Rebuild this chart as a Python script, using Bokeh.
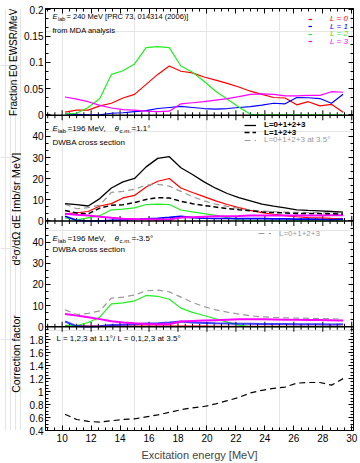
import math
from bokeh.plotting import figure
from bokeh.layouts import row
from bokeh.models import (Range1d, LinearAxis, FixedTicker, Label, Span, Legend, LegendItem)
from bokeh.embed import file_html
from bokeh.resources import INLINE

FONT = "Liberation Sans"

# ---------------- data ----------------
energy = [10.2, 11.0, 11.8, 12.6, 13.4, 14.2, 15.0, 15.8, 16.6, 17.4, 18.2, 19.0, 19.8,
          20.6, 21.4, 22.2, 23.0, 23.8, 24.6, 25.4, 26.2, 27.0, 27.8, 28.6, 29.4]

# Panel 1: fraction E0 EWSR/MeV from MDA analysis
mda_L0 = [0.005, 0.009, 0.009, 0.017, 0.022, 0.032, 0.039, 0.058, 0.077, 0.093, 0.083, 0.080, 0.072,
          0.066, 0.060, 0.053, 0.045, 0.039, 0.033, 0.032, 0.019, 0.025, 0.017, 0.020, 0.005]
mda_L1 = [0.002, 0.001, 0.000, 0.000, 0.003, 0.004, 0.006, 0.008, 0.012, 0.014, 0.016, 0.014, 0.012,
          0.011, 0.012, 0.014, 0.0155, 0.0186, 0.022, 0.021, 0.033, 0.0325, 0.031, 0.022, 0.039]
mda_L2 = [0.002, 0.003, 0.014, 0.031, 0.077, 0.084, 0.097, 0.128, 0.130, 0.128, 0.093, 0.081, 0.064,
          0.045, 0.030, 0.015, 0.001, 0.0, 0.0, 0.0, 0.0, 0.0, 0.0, 0.0, 0.0]
mda_L3 = [0.034, 0.030, 0.025, 0.018, 0.013, 0.010, 0.009, 0.007, 0.006, 0.007, 0.021, 0.023, 0.025,
          0.028, 0.031, 0.0345, 0.039, 0.040, 0.039, 0.036, 0.036, 0.037, 0.037, 0.044, 0.043]

# Panel 2: DWBA cross section at 1.1 deg
dw11_L0 = [3.4, 3.9, 4.5, 7.1, 8.2, 10.9, 12.1, 16.1, 18.8, 20.1, 15.6, 13.5, 11.5,
           9.5, 7.8, 6.3, 5.0, 4.0, 3.2, 2.5, 2.0, 1.6, 1.5, 1.2, 1.0]
dw11_L1 = [2.3, 0.3, 0.0, 0.0, 0.3, 0.5, 0.7, 1.0, 1.3, 1.7, 2.2, 1.6, 1.3,
           1.2, 1.2, 1.1, 1.1, 1.1, 1.0, 1.0, 0.9, 0.9, 0.8, 0.6, 0.9]
dw11_L2 = [1.5, 0.5, 1.5, 2.5, 5.3, 5.6, 6.2, 7.8, 8.0, 7.8, 5.2, 4.3, 3.5,
           2.7, 1.6, 0.6, 0.0, 0.0, 0.0, 0.0, 0.0, 0.0, 0.0, 0.0, 0.0]
dw11_L3 = [3.4, 3.0, 2.6, 2.0, 1.5, 1.1, 0.9, 0.8, 0.7, 0.7, 1.6, 1.8, 2.0,
           2.2, 2.3, 2.4, 2.6, 2.6, 2.6, 2.6, 2.6, 2.6, 2.6, 2.7, 2.7]
dw11_sum = [8.2, 7.7, 7.1, 10.6, 15.6, 18.5, 20.1, 25.6, 29.6, 30.4, 25.2, 22.0, 18.5,
            15.5, 13.0, 11.0, 9.5, 8.0, 7.0, 6.2, 5.3, 5.0, 4.8, 4.5, 4.2]
dw11_L123 = [5.0, 3.8, 3.4, 6.1, 7.4, 7.7, 8.7, 10.2, 11.0, 10.9, 9.3, 8.2, 7.3,
             6.6, 5.9, 5.3, 4.8, 4.3, 4.0, 3.8, 3.6, 3.5, 3.5, 3.4, 3.3]

# Panel 3: DWBA cross section at 3.5 deg
dw35_L0 = [0.5, 0.4, 0.3, 0.3, 0.3, 0.3, 0.3, 0.3, 0.3, 0.3, 0.3, 0.3, 0.3,
           0.2, 0.2, 0.2, 0.2, 0.2, 0.2, 0.2, 0.2, 0.2, 0.2, 0.2, 0.2]
dw35_L1 = [2.5, 0.3, 0.0, 0.2, 0.8, 1.0, 1.2, 1.5, 1.7, 2.0, 2.5, 2.0, 1.8,
           1.6, 1.5, 1.4, 1.4, 1.3, 1.3, 1.3, 1.2, 1.2, 1.2, 1.1, 1.2]
dw35_L2 = [0.7, 0.5, 2.0, 4.5, 10.8, 11.3, 12.2, 14.8, 14.4, 13.0, 8.8, 6.8, 5.3,
           3.8, 2.2, 0.8, 0.0, 0.0, 0.0, 0.0, 0.0, 0.0, 0.0, 0.0, 0.0]
dw35_L3 = [6.0, 5.3, 4.5, 3.6, 2.6, 2.0, 1.6, 1.3, 1.2, 1.2, 2.5, 2.7, 2.9,
           3.1, 3.3, 3.5, 3.6, 3.5, 3.4, 3.3, 3.3, 3.2, 3.2, 3.1, 3.0]
dw35_sum = [8.0, 5.8, 6.3, 7.5, 13.5, 14.0, 15.0, 17.0, 17.3, 16.5, 14.0, 11.5, 9.5,
            8.0, 6.9, 6.0, 5.2, 4.7, 4.4, 4.2, 4.1, 4.0, 3.9, 3.8, 3.6]

# Panel 4: correction factor
corr = [0.65, 0.57, 0.54, 0.53, 0.55, 0.57, 0.58, 0.61, 0.64, 0.68, 0.72, 0.75, 0.77,
        0.81, 0.86, 0.91, 0.98, 1.02, 1.05, 1.07, 1.13, 1.14, 1.14, 1.10, 1.20]

x_major_ticks = [10, 12, 14, 16, 18, 20, 22, 24, 26, 28, 30]
p1_ticks = [0, 0.05, 0.1, 0.15, 0.2]
p1_tick_labels = ["0", "0.05", "0.1", "0.15", "0.2"]
dw_ticks = [0, 10, 20, 30, 40]
dw_tick_labels = ["0", "10", "20", "30", "40"]
p4_ticks = [0.4, 0.6, 0.8, 1.0, 1.2, 1.4, 1.6, 1.8]
p4_tick_labels = ["0.4", "0.6", "0.8", "1", "1.2", "1.4", "1.6", "1.8"]

y_titles = ["Fraction E0 EWSR/MeV", "d²σ/dΩ dE [mb/sr MeV]", "Correction factor"]

RED, BLUE, GREEN, MAG, GRAY = "#ff0000", "#0000ff", "#22ee22", "#ff00ff", "#999999"

# ---------------- geometry of the stacked panels ----------------
STRIP = 21                        # width of the strip that holds the y titles
FL, FT, FB = 43, 8, 431          # frame left, top, bottom in page pixels
FH = FB - FT                      # frame height (423)
# slice of the frame (pixels from frame bottom) and value range of each panel
panels = {
    "p1": (316, 423, -0.0008, 0.2025),
    "p2": (210, 316, 0.0, 50.0),
    "p3": (104, 210, 0.0, 50.0),
    "p4": (0, 104, 0.4, 2.0),
}


def to_master(name, v):
    b, t, v0, v1 = panels[name]
    return round(b + (v - v0) * (t - b) / (v1 - v0), 4)


def panel_range(name):
    b, t, v0, v1 = panels[name]
    k = (v1 - v0) / (t - b)
    return Range1d(v0 - b * k, v1 + (FH - t) * k)


major_pos, overrides, minor_pos = [], {}, []
for name, ticks, labels, minor_step, lo, hi in (
        ("p1", p1_ticks, p1_tick_labels, 0.05 / 3, 0.0, 0.2),
        ("p2", dw_ticks, dw_tick_labels, 10 / 3, 0.0, 50.0),
        ("p3", dw_ticks, dw_tick_labels, 10 / 3, 0.0, 50.0),
        ("p4", p4_ticks, p4_tick_labels, 0.05, 0.4, 2.0)):
    for v, s in zip(ticks, labels):
        m = to_master(name, v)
        major_pos.append(m)
        overrides[m] = s
    n = int(round((hi - lo) / minor_step))
    for i in range(n + 1):
        minor_pos.append(to_master(name, lo + i * minor_step))

p = figure(width=360 - STRIP, height=463, x_range=Range1d(8.85, 30.12), y_range=Range1d(0, FH),
           output_backend="svg", toolbar_location=None,
           x_axis_location=None, y_axis_location=None,
           min_border_left=FL - STRIP, min_border_right=7, min_border_top=FT, min_border_bottom=32)
p.outline_line_color = "black"
p.background_fill_color = "white"
p.border_fill_color = "white"
p.extra_y_ranges = {k: panel_range(k) for k in panels}


def style_axis(ax, show_labels):
    ax.axis_line_color = "black"
    ax.major_tick_in = 5
    ax.major_tick_out = 0
    ax.minor_tick_in = 3
    ax.minor_tick_out = 0
    ax.major_tick_line_color = "black"
    ax.minor_tick_line_color = "black"
    ax.major_label_text_font = FONT
    if show_labels:
        ax.major_label_text_font_size = "10px"
        ax.major_label_text_color = "black"
        ax.major_label_standoff = 2
    else:
        ax.major_label_text_font_size = "1px"
        ax.major_label_text_color = None
        ax.major_label_standoff = 0


for side in ("left", "right"):
    ax = LinearAxis(ticker=FixedTicker(ticks=major_pos, minor_ticks=minor_pos),
                    major_label_overrides=overrides)
    style_axis(ax, side == "left")
    p.add_layout(ax, side)

x_minor = [v / 2 for v in range(18, 61)]
for side in ("below", "above"):
    ax = LinearAxis(ticker=FixedTicker(ticks=x_major_ticks, minor_ticks=x_minor))
    style_axis(ax, side == "below")
    if side == "below":
        ax.major_label_standoff = 3
        ax.axis_label = "Excitation energy [MeV]"
        ax.axis_label_text_font = FONT
        ax.axis_label_text_font_size = "11px"
        ax.axis_label_text_font_style = "normal"
        ax.axis_label_standoff = 4
    p.add_layout(ax, side)

# panel boundaries with ticks crossing them
bt_minor = [v / 2 for v in range(18, 61) if v % 4 != 0]
for yb in (104, 210, 316):
    p.add_layout(Span(location=yb, dimension="width", line_color="black", line_width=1.5))
    p.segment(x0=x_major_ticks, y0=[yb - 5] * len(x_major_ticks), x1=x_major_ticks,
              y1=[yb + 5] * len(x_major_ticks), line_color="black", line_width=1)
    p.segment(x0=bt_minor, y0=[yb - 3] * len(bt_minor), x1=bt_minor,
              y1=[yb + 3] * len(bt_minor), line_color="black", line_width=1)


def txt(x, y, s, size=8, style="normal", color="black"):
    p.add_layout(Label(x=x - FL, y=FB - y, x_units="screen", y_units="screen", text=s,
                       text_font=FONT, text_font_size=f"{size}px", text_font_style=style,
                       text_color=color, text_baseline="middle", text_align="left"))


def legend(r, label, x, yc, color, gw, standoff, size=8, style="normal"):
    lg = Legend(items=[LegendItem(label=label, renderers=[r])],
                location=(x - FL, FB - yc - 4.6),
                orientation="vertical", padding=0, margin=0, spacing=0,
                glyph_width=gw, glyph_height=6, label_height=6, label_width=10,
                label_standoff=standoff, border_line_color=None, background_fill_alpha=0,
                label_text_font=FONT, label_text_font_size=f"{size}px",
                label_text_color=color, label_text_font_style=style)
    p.add_layout(lg)


# ---------------- panel 1 ----------------
r10 = p.line(energy, mda_L0, line_color=RED, line_width=1.2, y_range_name="p1")
r11 = p.line(energy, mda_L1, line_color=BLUE, line_width=1.2, y_range_name="p1")
r12 = p.line(energy, mda_L2, line_color=GREEN, line_width=1.2, y_range_name="p1")
r13 = p.line(energy, mda_L3, line_color=MAG, line_width=1.2, y_range_name="p1")
txt(50, 17, "E", 7.5, "italic")
txt(55.5, 19.5, "lab", 5.5)
txt(64, 17, "= 240 MeV [PRC 73, 014314 (2006)]", 7.5)
txt(50, 31, "from MDA analysis", 7.5)
for r, lab, yc, col in ((r10, "L = 0", 19.7, RED), (r11, "L = 1", 27.2, BLUE),
                        (r12, "L = 2", 34.7, GREEN), (r13, "L = 3", 42.3, MAG)):
    legend(r, lab, 306, yc, col, 4, 18, 8, "italic")

# ---------------- panel 2 ----------------
P2 = "p2"
p.line(energy, dw11_L2, line_color=GREEN, line_width=1.2, y_range_name=P2)
p.line(energy, dw11_L0, line_color=RED, line_width=1.2, y_range_name=P2)
p.line(energy, dw11_L1, line_color=BLUE, line_width=1.6, y_range_name=P2)
p.line(energy, dw11_L3, line_color=MAG, line_width=2, y_range_name=P2)
g2 = p.line(energy, dw35_sum, line_color=GRAY, line_width=1.2, line_dash="6 4", y_range_name=P2)
k2 = p.line(energy, dw11_L123, line_color="black", line_width=1.5, line_dash="5 3", y_range_name=P2)
s2 = p.line(energy, dw11_sum, line_color="black", line_width=1.3, y_range_name=P2)

# ---------------- panel 3 ----------------
P3 = "p3"
p.line(energy, dw35_L0, line_color=RED, line_width=1.2, y_range_name=P3)
p.line(energy, dw35_L2, line_color=GREEN, line_width=1.2, y_range_name=P3)
p.line(energy, dw35_L1, line_color=BLUE, line_width=2, line_alpha=0.75, y_range_name=P3)
p.line(energy, dw35_L3, line_color=MAG, line_width=2, y_range_name=P3)
g3 = p.line(energy, dw35_sum, line_color=GRAY, line_width=1.2, line_dash="6 4", y_range_name=P3)

for base_y, theta in ((129, "=1.1°"), (239, "=-3.5°")):
    txt(50, base_y, "E", 8, "italic")
    txt(55.5, base_y + 2.5, "lab", 6)
    txt(65, base_y, "=196 MeV,", 8)
    txt(112, base_y, "θ", 8, "italic")
    txt(117, base_y + 2.5, "c.m.", 6)
    txt(129, base_y, theta, 8)
txt(50, 143, "DWBA cross section", 8)
txt(50, 250, "DWBA cross section", 8)

legend(s2, "L=0+1+2+3", 242, 125.5, "black", 12, 8, 8, "bold")
legend(k2, "L=1+2+3", 242, 133, "black", 12, 8, 8, "bold")
legend(g2, "L=0+1+2+3 at 3.5°", 242, 140.5, GRAY, 12, 8, 8)
legend(g3, "L=0+1+2+3", 256, 234, GRAY, 13, 8, 8)

# ---------------- panel 4 ----------------
p.line(energy, corr, line_color="black", line_width=1.2, line_dash="6 4", y_range_name="p4")
txt(54, 339, "L = 1,2,3 at 1.1°/ L = 0,1,2,3 at 3.5°", 8)

# ---------------- strip with the y-axis titles ----------------
strip = figure(width=STRIP, height=463, x_range=Range1d(0, STRIP), y_range=Range1d(0, 463),
               output_backend="svg", toolbar_location=None,
               x_axis_location=None, y_axis_location=None, min_border=0)
strip.outline_line_color = None
strip.background_fill_color = "white"
strip.border_fill_color = "white"
for title, xc, yc, size in ((y_titles[0], 13, 59, 10), (y_titles[1], 15, 220, 11),
                            (y_titles[2], 15, 379, 10.5)):
    strip.add_layout(Label(x=xc, y=463 - yc, text=title, angle=math.pi / 2,
                           text_font=FONT, text_font_size=f"{size}px",
                           text_align="center", text_baseline="middle", text_color="black"))

layout = row(strip, p, spacing=0)
open("out.html", "w").write(file_html(layout, INLINE))
